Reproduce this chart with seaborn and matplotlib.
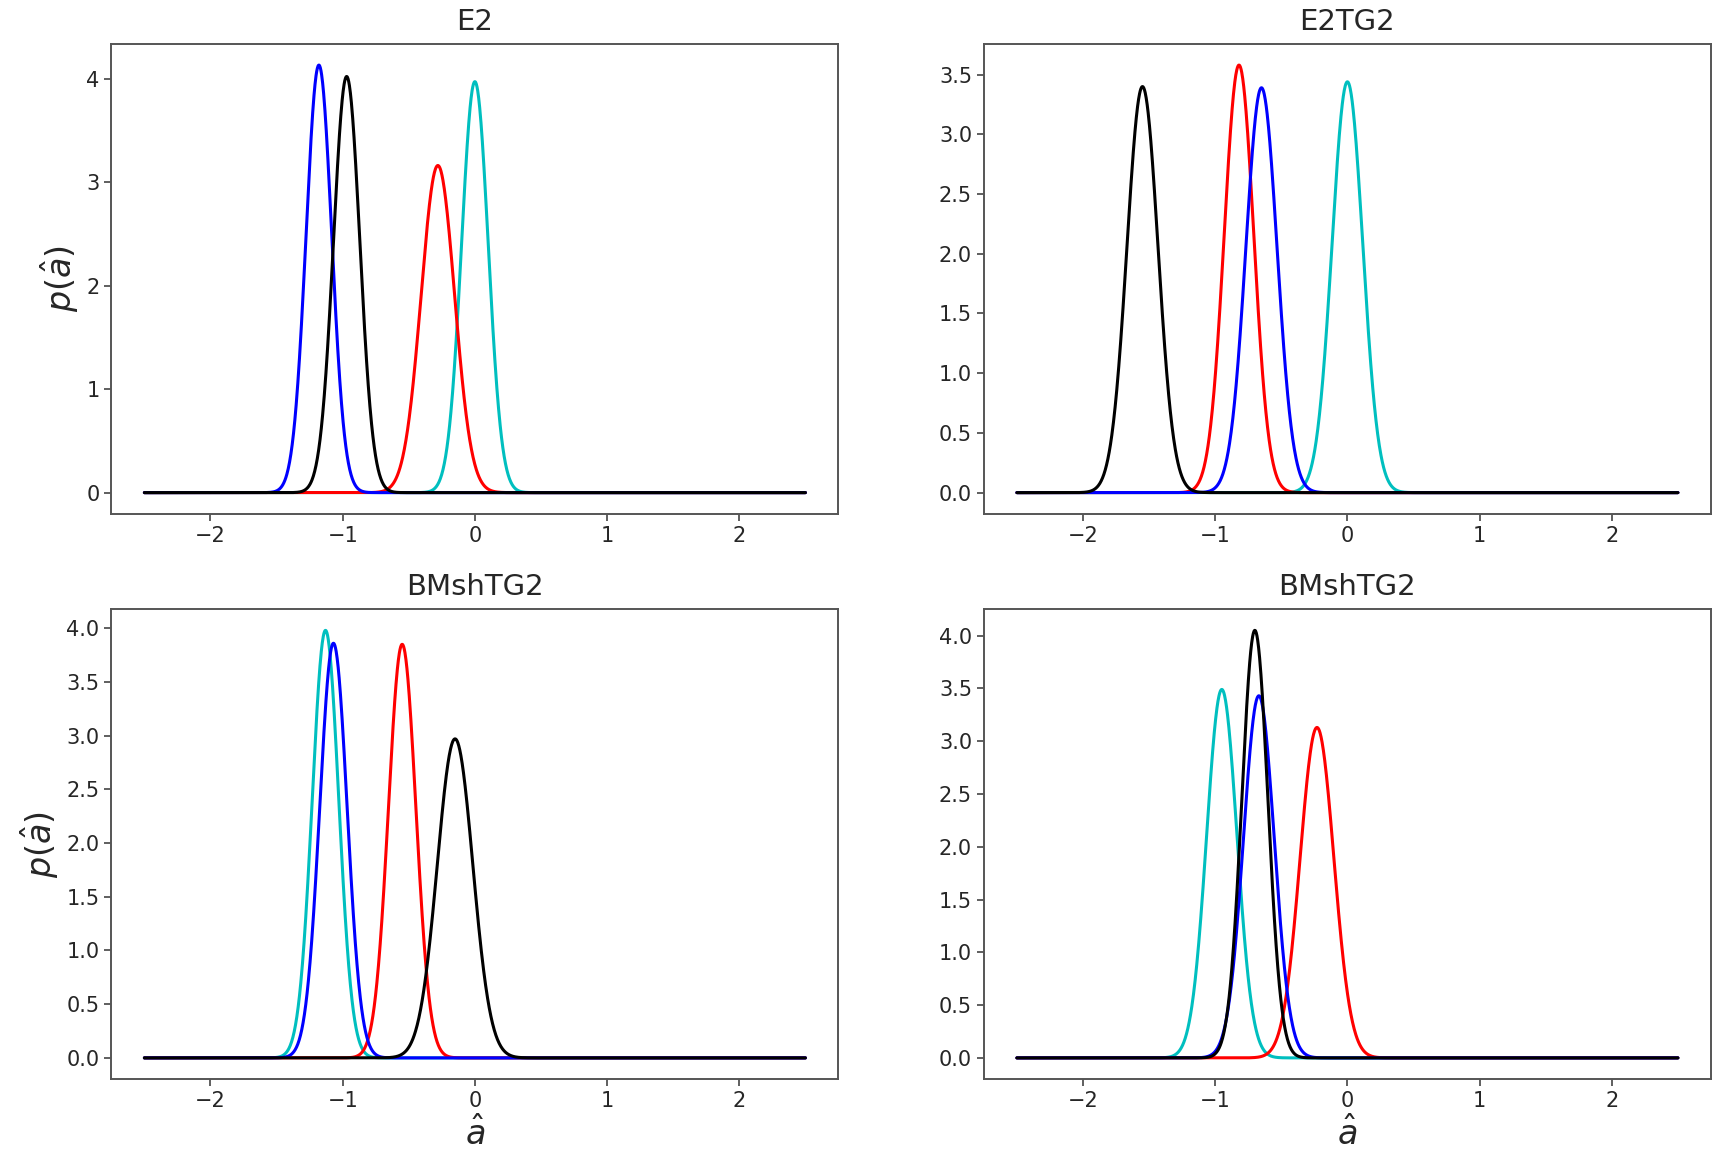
import numpy as np
import pandas as pd
import matplotlib
matplotlib.use('Agg')
import matplotlib.pyplot as plt
import seaborn as sns

# panel titles, in reading order
TITLES = ["E2", "E2TG2", "BMshTG2", "BMshTG2"]
# curve colours, in drawing order
CURVES = ["cyan", "red", "blue", "black"]
COLORS = {"cyan": "#00bfbf", "red": "#ff0000", "blue": "#0000ff", "black": "#000000"}

# gaussian centres (cyan, red, blue, black)
MEANS_E2 = [0.00, -0.28, -1.18, -0.97]
MEANS_E2TG2 = [0.00, -0.82, -0.65, -1.55]
MEANS_BMSH_A = [-1.13, -0.55, -1.07, -0.15]
MEANS_BMSH_B = [-0.95, -0.23, -0.67, -0.70]

# peak heights (cyan, red, blue, black)
PEAKS_E2 = [3.97, 3.16, 4.13, 4.02]
PEAKS_E2TG2 = [3.44, 3.58, 3.39, 3.40]
PEAKS_BMSH_A = [3.98, 3.85, 3.86, 2.97]
PEAKS_BMSH_B = [3.49, 3.13, 3.43, 4.05]

MEANS = [MEANS_E2, MEANS_E2TG2, MEANS_BMSH_A, MEANS_BMSH_B]
PEAKS = [PEAKS_E2, PEAKS_E2TG2, PEAKS_BMSH_A, PEAKS_BMSH_B]

X_MIN, X_MAX = -2.5, 2.5


def density_frame(means, peaks):
    x = np.linspace(X_MIN, X_MAX, 2000)
    rows = []
    for name, mu, pk in zip(CURVES, means, peaks):
        sd = 1.0 / (pk * np.sqrt(2 * np.pi))
        y = np.exp(-0.5 * ((x - mu) / sd) ** 2) / (sd * np.sqrt(2 * np.pi))
        rows.append(pd.DataFrame({'a': x, 'p': y, 'curve': name}))
    return pd.concat(rows, ignore_index=True)


sns.set_style('ticks')
plt.rcParams['font.family'] = ['DejaVu Sans']
plt.rcParams['mathtext.fontset'] = 'dejavusans'

fig, axes = plt.subplots(2, 2, figsize=(17.13, 11.63), dpi=100)
fig.subplots_adjust(left=0.065, right=0.9988, top=0.9624, bottom=0.072,
                    wspace=0.2, hspace=0.202)

for idx, ax in enumerate(axes.flat):
    df = density_frame(MEANS[idx], PEAKS[idx])
    sns.lineplot(data=df, x='a', y='p', hue='curve', hue_order=CURVES,
                 palette=COLORS, estimator=None, sort=False, legend=False,
                 linewidth=2.2, ax=ax)
    ax.set_title(TITLES[idx], fontsize=21, pad=10)
    ax.set_xticks([-2, -1, 0, 1, 2])
    ax.tick_params(labelsize=15, length=5, width=1.2, color='#444444')
    for s in ax.spines.values():
        s.set_color('#555555')
        s.set_linewidth(1.4)
    ax.set_xlabel(r'$\hat{a}$' if idx >= 2 else '', fontsize=24)
    ax.set_ylabel(r'$p(\hat{a})$' if idx % 2 == 0 else '', fontsize=24)

axes[0][0].set_yticks([0, 1, 2, 3, 4])

fig.savefig('out.png', dpi=100)
plt.close()
